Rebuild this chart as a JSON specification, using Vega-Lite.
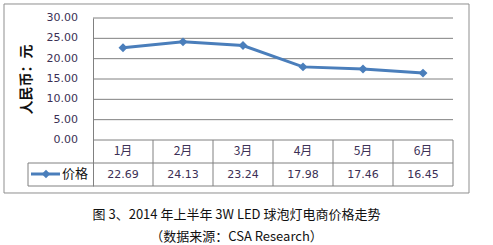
{
  "$schema": "https://vega.github.io/schema/vega-lite/v6.json",
  "width": 360,
  "height": 168,
  "autosize": "none",
  "padding": {"left": 93, "top": 18, "right": 40, "bottom": 59},
  "background": "white",
  "config": {
    "view": {"stroke": null},
    "font": "DejaVu Sans"
  },
  "title": {
    "text": "图 3、2014 年上半年 3W LED 球泡灯电商价格走势",
    "subtitle": "（数据来源：CSA  Research）",
    "orient": "bottom",
    "anchor": "middle",
    "frame": "bounds",
    "font": "Noto Sans CJK SC",
    "fontSize": 13,
    "fontWeight": "normal",
    "color": "#111111",
    "subtitleFont": "Noto Sans CJK SC",
    "subtitleFontSize": 13,
    "subtitleColor": "#111111",
    "offset": 16,
    "subtitlePadding": 9
  },
  "datasets": {
    "prices": [
      {"m": 1, "label": "1月", "price": 22.69},
      {"m": 2, "label": "2月", "price": 24.13},
      {"m": 3, "label": "3月", "price": 23.24},
      {"m": 4, "label": "4月", "price": 17.98},
      {"m": 5, "label": "5月", "price": 17.46},
      {"m": 6, "label": "6月", "price": 16.45}
    ],
    "ticks": [{"v": 0}, {"v": 5}, {"v": 10}, {"v": 15}, {"v": 20}, {"v": 25}, {"v": 30}],
    "bounds": [{"b": -0.5833}, {"b": 0.5}, {"b": 1.5}, {"b": 2.5}, {"b": 3.5}, {"b": 4.5}, {"b": 5.5}, {"b": 6.5}],
    "legend": [{"series": "价格"}]
  },
  "layer": [
    {
      "data": {"name": "legend"},
      "mark": {"type": "rect", "fill": "transparent", "stroke": "#8f8f8f", "strokeWidth": 1},
      "encoding": {
        "x": {"datum": -0.9833, "type": "quantitative",
          "scale": {"domain": [0.5, 6.5], "nice": false, "zero": false},
          "axis": null},
        "x2": {"datum": 6.7667},
        "y": {"datum": 33.443, "type": "quantitative",
          "scale": {"domain": [-11.311, 30], "nice": false, "zero": false},
          "axis": {
            "values": [0, 30],
            "labels": false,
            "domain": true,
            "domainColor": "#808080",
            "domainWidth": 1,
            "ticks": false,
            "grid": false,
            "title": "人民币：元",
            "titleFont": "Noto Sans CJK SC",
            "titleFontSize": 14,
            "titleFontWeight": "bold",
            "titleColor": "#111111",
            "titleBaseline": "middle",
            "titleAngle": -90,
            "titleX": -67,
            "titleY": 61
          }
        },
        "y2": {"datum": -13.032}
      }
    },
    {
      "data": {"name": "ticks"},
      "mark": {"type": "rule", "color": "#808080", "strokeWidth": 1},
      "encoding": {
        "x": {"datum": 0.5},
        "x2": {"datum": 6.5},
        "y": {"field": "v", "type": "quantitative"}
      }
    },
    {
      "data": {"name": "ticks"},
      "mark": {"type": "text", "font": "DejaVu Sans", "fontSize": 11, "color": "#3b2f55", "align": "right", "baseline": "middle"},
      "encoding": {
        "x": {"datum": 0.25},
        "y": {"field": "v", "type": "quantitative"},
        "text": {"field": "v", "type": "quantitative", "format": ".2f"}
      }
    },
    {
      "data": {"name": "bounds"},
      "mark": {"type": "rule", "color": "#808080", "strokeWidth": 1},
      "encoding": {
        "x": {"aggregate": "min", "field": "b", "type": "quantitative"},
        "x2": {"aggregate": "max", "field": "b"},
        "y": {"datum": -5.656}
      }
    },
    {
      "data": {"name": "bounds"},
      "mark": {"type": "rule", "color": "#808080", "strokeWidth": 1},
      "encoding": {
        "x": {"aggregate": "min", "field": "b", "type": "quantitative"},
        "x2": {"aggregate": "max", "field": "b"},
        "y": {"datum": -11.311}
      }
    },
    {
      "data": {"name": "bounds"},
      "transform": [{"filter": "datum.b > 0.5"}],
      "mark": {"type": "rule", "color": "#808080", "strokeWidth": 1},
      "encoding": {
        "x": {"field": "b", "type": "quantitative"},
        "y": {"datum": 0},
        "y2": {"datum": -11.311}
      }
    },
    {
      "data": {"name": "bounds"},
      "transform": [{"filter": "datum.b < 0"}],
      "mark": {"type": "rule", "color": "#808080", "strokeWidth": 1},
      "encoding": {
        "x": {"field": "b", "type": "quantitative"},
        "y": {"datum": -5.656},
        "y2": {"datum": -11.311}
      }
    },
    {
      "data": {"name": "prices"},
      "mark": {"type": "line", "color": "#4a7ebb", "strokeWidth": 3},
      "encoding": {
        "x": {"field": "m", "type": "quantitative"},
        "y": {"field": "price", "type": "quantitative"}
      }
    },
    {
      "data": {"name": "prices"},
      "mark": {"type": "point", "shape": "diamond", "filled": true, "color": "#4a7ebb", "size": 80, "opacity": 1},
      "encoding": {
        "x": {"field": "m", "type": "quantitative"},
        "y": {"field": "price", "type": "quantitative"}
      }
    },
    {
      "data": {"name": "prices"},
      "mark": {"type": "text", "font": "Noto Sans CJK SC", "fontSize": 12, "color": "#3b2f55", "baseline": "middle"},
      "encoding": {
        "x": {"field": "m", "type": "quantitative"},
        "y": {"datum": -2.77},
        "text": {"field": "label"}
      }
    },
    {
      "data": {"name": "prices"},
      "mark": {"type": "text", "font": "DejaVu Sans", "fontSize": 11, "color": "#3b2f55", "baseline": "middle"},
      "encoding": {
        "x": {"field": "m", "type": "quantitative"},
        "y": {"datum": -8.5},
        "text": {"field": "price", "format": ".2f"}
      }
    },
    {
      "data": {"name": "legend"},
      "mark": {"type": "rule", "color": "#4a7ebb", "strokeWidth": 3},
      "encoding": {
        "x": {"datum": -0.5333},
        "x2": {"datum": -0.05},
        "y": {"datum": -8.36}
      }
    },
    {
      "data": {"name": "legend"},
      "mark": {"type": "point", "shape": "diamond", "filled": true, "color": "#4a7ebb", "size": 70, "opacity": 1},
      "encoding": {
        "x": {"datum": -0.2833},
        "y": {"datum": -8.36}
      }
    },
    {
      "data": {"name": "legend"},
      "mark": {"type": "text", "font": "Noto Sans CJK SC", "fontSize": 13, "color": "#111111", "baseline": "middle"},
      "encoding": {
        "x": {"datum": 0.2},
        "y": {"datum": -8.4},
        "text": {"field": "series"}
      }
    }
  ]
}
